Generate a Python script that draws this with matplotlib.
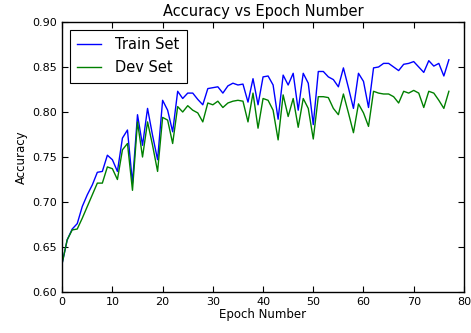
import numpy as np
import matplotlib
matplotlib.use("Agg")
import matplotlib.pyplot as plt

# accuracy per epoch
train_acc = [0.632, 0.658, 0.670, 0.676, 0.695, 0.708, 0.719, 0.733, 0.734, 0.752,
             0.747, 0.734, 0.771, 0.780, 0.721, 0.797, 0.763, 0.804, 0.774, 0.747,
             0.813, 0.802, 0.778, 0.823, 0.815, 0.821, 0.821, 0.814, 0.808, 0.826,
             0.827, 0.828, 0.821, 0.829, 0.832, 0.830, 0.831, 0.811, 0.837, 0.808,
             0.839, 0.840, 0.830, 0.792, 0.841, 0.830, 0.843, 0.802, 0.843, 0.832,
             0.786, 0.845, 0.845, 0.839, 0.836, 0.828, 0.849, 0.827, 0.804, 0.843,
             0.834, 0.805, 0.849, 0.850, 0.854, 0.854, 0.850, 0.846, 0.853, 0.854,
             0.856, 0.850, 0.844, 0.857, 0.851, 0.854, 0.840, 0.858]
dev_acc = [0.632, 0.658, 0.669, 0.670, 0.682, 0.695, 0.708, 0.721, 0.721, 0.739,
           0.737, 0.725, 0.758, 0.765, 0.713, 0.789, 0.750, 0.789, 0.763, 0.734,
           0.794, 0.791, 0.765, 0.806, 0.800, 0.807, 0.802, 0.799, 0.789, 0.810,
           0.808, 0.812, 0.805, 0.810, 0.812, 0.813, 0.812, 0.789, 0.821, 0.782,
           0.815, 0.813, 0.802, 0.769, 0.819, 0.795, 0.815, 0.783, 0.815, 0.804,
           0.770, 0.817, 0.817, 0.816, 0.804, 0.797, 0.820, 0.799, 0.777, 0.809,
           0.799, 0.784, 0.823, 0.821, 0.820, 0.820, 0.817, 0.810, 0.823, 0.821,
           0.824, 0.821, 0.805, 0.823, 0.821, 0.813, 0.804, 0.823]
epochs = np.arange(len(train_acc))

fig = plt.figure(figsize=(4.71, 3.33), dpi=100)
ax = fig.add_axes([0.132, 0.123, 0.853, 0.811])

ax.plot(epochs, train_acc, color=(0, 0, 1), linewidth=1.0, label='Train Set')
ax.plot(epochs, dev_acc, color=(0, 0.5, 0), linewidth=1.0, label='Dev Set')

ax.set_xlim(0, 80)
ax.set_ylim(0.60, 0.90)
ax.set_xticks(np.arange(0, 81, 10))
ax.set_yticks(np.arange(0.60, 0.901, 0.05))
ax.set_yticklabels(['%.2f' % v for v in np.arange(0.60, 0.901, 0.05)])
ax.tick_params(direction='in', top=True, right=True, labelsize=8, length=4, width=0.8)
for s in ax.spines.values():
    s.set_linewidth(1.0)

ax.set_title('Accuracy vs Epoch Number', fontsize=10.5, pad=4)
ax.set_xlabel('Epoch Number', fontsize=8.5, labelpad=1)
ax.set_ylabel('Accuracy', fontsize=8.5, labelpad=3)

leg = ax.legend(loc='upper left', fontsize=10.5, fancybox=False, framealpha=1,
                edgecolor='black', handlelength=1.6, handletextpad=1.0,
                labelspacing=0.55, borderpad=0.5, borderaxespad=0.55)
leg.get_frame().set_linewidth(0.8)

fig.savefig('out.png', dpi=100)
